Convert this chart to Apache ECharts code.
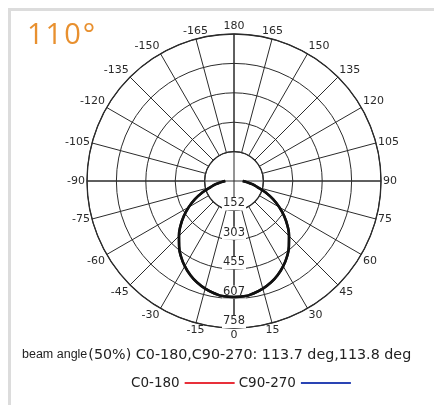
<!DOCTYPE html>
<html><head><meta charset="utf-8">
<script src="https://cdn.jsdelivr.net/npm/echarts@6/dist/echarts.min.js"></script>
<style>html,body{margin:0;padding:0;background:#fff}#c{width:434px;height:405px}</style>
</head><body><div id="c"></div>
<script>
// Data
var titleChars = ['1', '1', '0', '°'];
var angles = [-90,-85,-80,-75,-70,-65,-60,-55,-50,-45,-40,-35,-30,-25,-20,-15,-10,-5,0,5,10,15,20,25,30,35,40,45,50,55,60,65,70,75,80,85,90];
var c0_180 = [45,65,95,126,174,222,269,316,360,401,440,476,507,534,557,575,588,597,598,597,588,575,557,534,507,476,440,401,360,316,269,222,174,126,95,65,45];
var c90_270 = [45,66,96,127,175,223,270,317,361,402,441,477,508,535,557,575,588,597,598,597,588,575,557,535,508,477,441,402,361,317,270,223,175,127,96,66,45];
var ringMax = 758.4;
var ringStep = 151.68;
var angleTicks = 15;
var beamPrefix = 'beam angle';
var beamText = '(50%) C0-180,C90-270: 113.7 deg,113.8 deg';
var legendNames = ['C0-180', 'C90-270'];
var legendColors = ['#e8303a', '#2a44b4'];

function toPolar(vals) {
  return vals.map(function (v, i) {
    var a = angles[i];
    return [v, a < 0 ? a + 360 : a];
  });
}

var chart = echarts.init(document.getElementById('c'));
var lineColor = '#2b2b2b';
var center = [234, 181];
chart.setOption({
  animation: false,
  title: {
    text: titleChars.map(function (c) { return '{d|' + c + '}'; }).join(''),
    left: 22, top: 16,
    textStyle: {
      rich: { d: { color: '#E8902F', fontSize: 29, fontWeight: 'normal', fontFamily: 'Open Sans', padding: [0, 2, 0, 0] } }
    }
  },
  legend: {
    data: [
      { name: legendNames[0], itemStyle: { color: legendColors[0] } },
      { name: legendNames[1], itemStyle: { color: legendColors[1] } }
    ],
    icon: 'rect', itemWidth: 50, itemHeight: 2, itemGap: 4, align: 'right',
    left: 126, top: 371,
    textStyle: { fontFamily: 'DejaVu Sans', fontSize: 13.5, color: '#222' }
  },
  polar: [
    { center: center, radius: [0, 147] },
    { center: center, radius: [29.4, 147] }
  ],
  angleAxis: [
    {
      polarIndex: 0, type: 'value', min: 0, max: 360, interval: 90,
      startAngle: 270, clockwise: false,
      axisLine: { show: false }, axisTick: { show: false }, axisLabel: { show: false },
      splitLine: { show: true, lineStyle: { color: lineColor, width: 1 } }
    },
    {
      polarIndex: 1, type: 'value', min: 0, max: 360, interval: angleTicks,
      startAngle: 270, clockwise: false,
      axisLine: { show: true, lineStyle: { color: lineColor, width: 1.3 } },
      axisTick: { show: false },
      axisLabel: {
        margin: 2, color: '#2a2a2a', fontSize: 11, fontFamily: 'DejaVu Sans',
        formatter: function (v) { if (v === 360) return ''; return String(v > 180 ? v - 360 : v); }
      },
      splitLine: { show: true, lineStyle: { color: lineColor, width: 1 } }
    }
  ],
  radiusAxis: [
    {
      polarIndex: 0, type: 'value', min: 0, max: ringMax, interval: ringStep,
      axisLine: { show: false }, axisTick: { show: false },
      axisLabel: {
        margin: 0, align: 'center', verticalAlign: 'bottom', showMinLabel: false,
        color: '#2a2a2a', fontSize: 11.5, fontFamily: 'DejaVu Sans',
        backgroundColor: '#fff', padding: [0, 1, 1, 1],
        formatter: function (v) { return v === 0 ? '' : String(Math.round(v)); }
      },
      splitLine: { show: true, lineStyle: { color: lineColor, width: 1 } }
    },
    {
      polarIndex: 1, type: 'value', min: 0, max: ringMax,
      axisLine: { show: false }, axisTick: { show: false }, axisLabel: { show: false },
      splitLine: { show: false }
    }
  ],
  series: [
    {
      name: legendNames[0], type: 'line', coordinateSystem: 'polar', polarIndex: 0,
      data: toPolar(c0_180), smooth: true, symbol: 'none',
      lineStyle: { color: '#111', width: 2.5 }, itemStyle: { color: '#111' }, z: 5
    },
    {
      name: legendNames[1], type: 'line', coordinateSystem: 'polar', polarIndex: 0,
      data: toPolar(c90_270), smooth: true, symbol: 'none',
      lineStyle: { color: '#111', width: 2.5 }, itemStyle: { color: '#111' }, z: 5
    }
  ],
  graphic: [
    {
      type: 'rect', silent: true, z: -1,
      shape: { x: 9.5, y: 9.5, width: 600, height: 600 },
      style: { fill: 'none', stroke: '#dcdcdc', lineWidth: 3 }
    },
    {
      type: 'text', left: 22, top: 348,
      style: {
        text: '{a|' + beamPrefix + '}{b|' + beamText + '}',
        rich: {
          a: { fontFamily: 'Liberation Sans', fontSize: 12.5, fill: '#222', padding: [0, 1, 0, 0] },
          b: { fontFamily: 'DejaVu Sans', fontSize: 14.3, fill: '#222' }
        }
      }
    }
  ]
});
</script></body></html>
